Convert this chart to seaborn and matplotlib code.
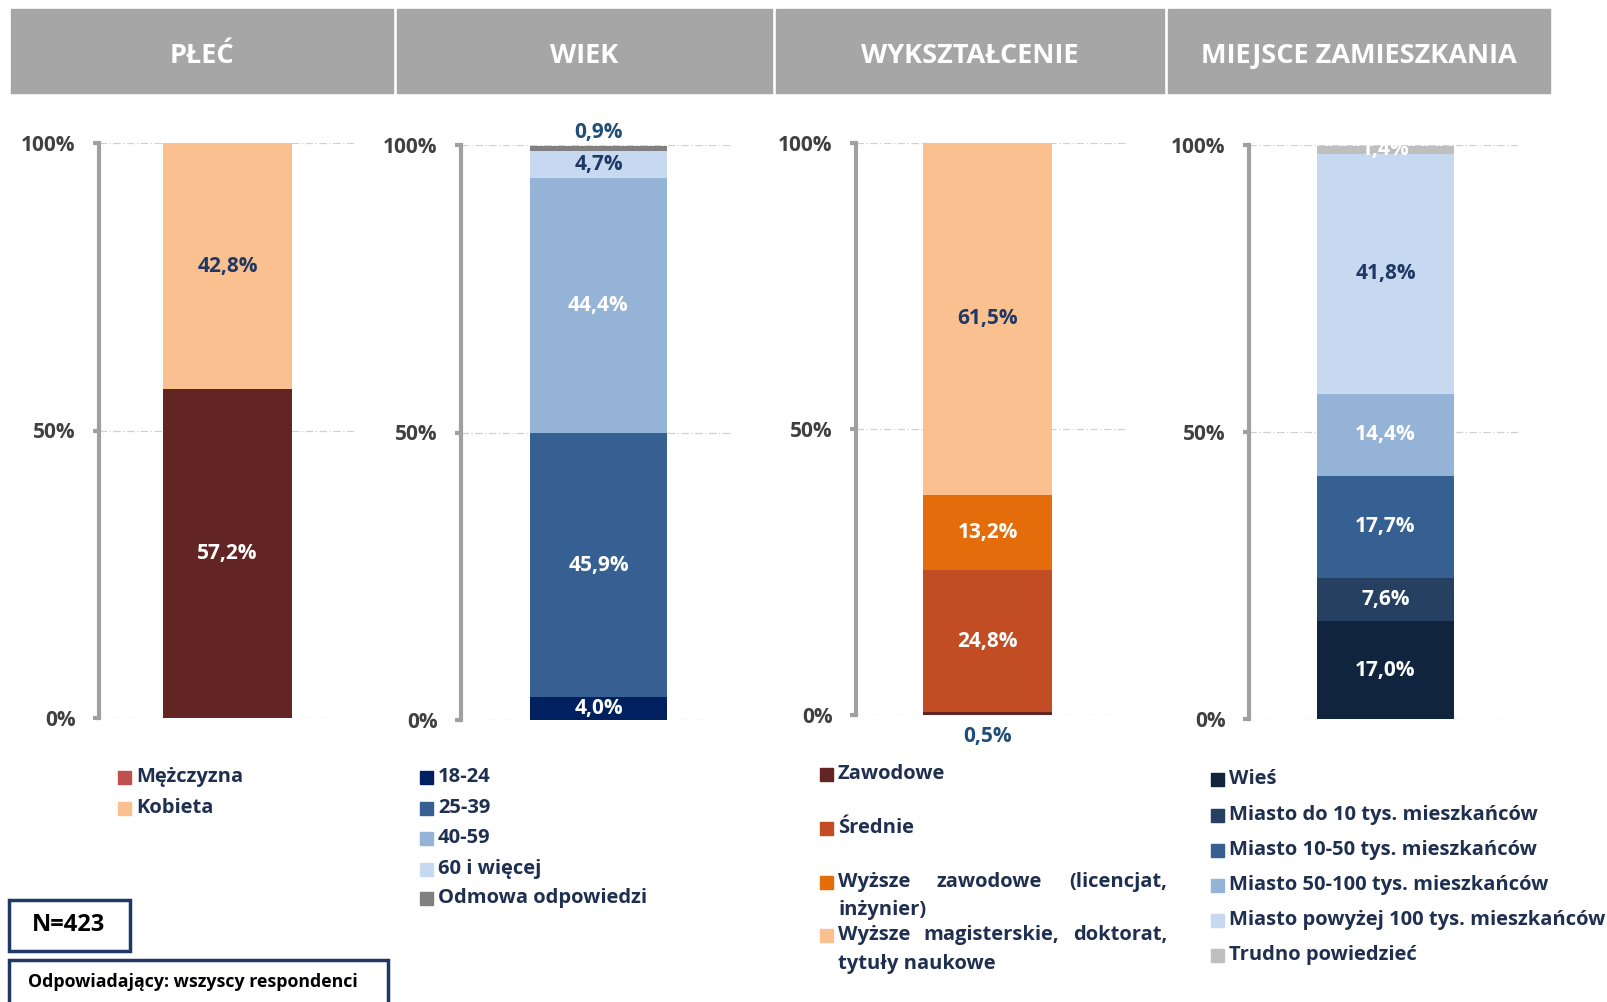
import numpy as np
import pandas as pd
import seaborn as sns
import matplotlib.pyplot as plt
from matplotlib.patches import Rectangle

# ---- data ----
headers = ["PŁEĆ", "WIEK", "WYKSZTAŁCENIE", "MIEJSCE ZAMIESZKANIA"]

sex_labels = ["Mężczyzna", "Kobieta"]
sex_values = [57.2, 42.8]

age_labels = ["18-24", "25-39", "40-59", "60 i więcej", "Odmowa odpowiedzi"]
age_values = [4.0, 45.9, 44.4, 4.7, 0.9]

edu_labels = ["Zawodowe", "Średnie", "Wyższe zawodowe (licencjat, inżynier)",
              "Wyższe magisterskie, doktorat, tytuły naukowe"]
edu_values = [0.5, 24.8, 13.2, 61.5]

place_labels = ["Wieś", "Miasto do 10 tys. mieszkańców", "Miasto 10-50 tys. mieszkańców",
                "Miasto 50-100 tys. mieszkańców", "Miasto powyżej 100 tys. mieszkańców",
                "Trudno powiedzieć"]
place_values = [17.0, 7.6, 17.7, 14.4, 41.8, 1.4]

n_total = 423

# ---- style ----
sns.set_style("white")
plt.rcParams['font.family'] = ['Open Sans', 'DejaVu Sans']
WT = 'bold'
plt.rcParams['font.weight'] = WT

NAVY = '#1F3864'
TXT = '#1F2F4F'
W, H = 1608, 1002
LEG_FS = 14.5
VAL_FS = 15

fig = plt.figure(figsize=(16.08, 10.02), dpi=100)


def fx(x):
    return x / W


def fy(y):
    return 1 - y / H


# header boxes
for (x0, x1), title in zip([(11, 393), (397, 772), (776, 1164), (1168, 1550)], headers):
    fig.patches.append(Rectangle((fx(x0), fy(93)), fx(x1 - x0), (93 - 9) / H,
                                 transform=fig.transFigure, color='#A6A6A6', zorder=0))
    fig.text(fx((x0 + x1) / 2), fy(56), title, color='white', fontsize=19.5,
             fontweight=WT, ha='center', va='center')

# panels: axis x, grid end x, top y, bottom y, bar left, bar right
panels = [
    (99, 354, 143, 718, 163, 292),
    (461, 733, 145, 720, 530, 667),
    (856, 1128, 143, 715, 923, 1052),
    (1249, 1521, 145, 719, 1317, 1454),
]

sex_colors = ['#632523', '#FAC090']
age_colors = ['#002060', '#376092', '#95B3D7', '#C6D9F1', '#808080']
edu_colors = ['#632523', '#C24C24', '#E46C0A', '#FAC090']
place_colors = ['#10243E', '#254061', '#376092', '#95B3D7', '#C6D9F1', '#BFBFBF']

series = [
    (sex_values, sex_colors, ['white', NAVY]),
    (age_values, age_colors, ['white', 'white', 'white', NAVY, '#1F4E79']),
    (edu_values, edu_colors, ['#1F4E79', 'white', 'white', NAVY]),
    (place_values, place_colors, ['white', 'white', 'white', 'white', NAVY, 'white']),
]

axes = []
for (ax_x, gx, ty, by, bl, br), (vals, cols, lcols) in zip(panels, series):
    ax = fig.add_axes([fx(ax_x), fy(by), fx(gx - ax_x), (by - ty) / H])
    axes.append(ax)
    frac = np.array(vals) / 100.0
    cum = np.cumsum(frac)
    # draw tallest stack first so the lower segments overlay it
    for c, col in list(zip(cum, cols))[::-1]:
        df = pd.DataFrame({'g': ['a'], 'v': [c]})
        sns.barplot(data=df, x='g', y='v', color=col, saturation=1, width=1.0,
                    linewidth=0, ax=ax)
    bw = br - bl
    bc = (bl + br) / 2
    ax.set_xlim(-(bc - ax_x) / bw, (gx - bc) / bw)
    ax.set_ylim(0, 1)
    ax.set_xlabel('')
    ax.set_ylabel('')
    ax.set_xticks([])
    ax.set_yticks([0, 0.5, 1])
    ax.set_yticklabels(['0%', '50%', '100%'])
    ax.tick_params(axis='y', left=True, length=4, width=3, color='#A0A0A0', pad=13,
                   labelsize=15, labelcolor='#404040')
    for lbl in ax.get_yticklabels():
        lbl.set_fontweight(WT)
    for s in ['top', 'right', 'bottom']:
        ax.spines[s].set_visible(False)
    ax.spines['left'].set_color('#A0A0A0')
    ax.spines['left'].set_linewidth(3)
    for yv in [0, 0.5, 1]:
        ax.axhline(yv, color='#D0D0D0', lw=0.9, ls=(0, (6, 2, 1, 2)), zorder=0.5)
    ax.set_axisbelow(True)
    # value labels
    starts = cum - frac
    for i, (s, f, lc) in enumerate(zip(starts, frac, lcols)):
        txt = f"{vals[i]:.1f}%".replace('.', ',')
        yc = s + f / 2
        if f < 0.012:
            # tiny slices labelled outside the bar
            yc = 1.022 if s > 0.5 else -0.038
        ax.text(0, yc, txt, ha='center', va='center', color=lc, fontsize=VAL_FS,
                fontweight=WT, clip_on=False)


def legend_item(px, py, color, text):
    fig.patches.append(Rectangle((fx(px), fy(py + 6.5)), fx(13), 13 / H,
                                 transform=fig.transFigure, color=color))
    fig.text(fx(px + 18), fy(py), text, fontsize=LEG_FS, color=TXT, fontweight=WT,
             ha='left', va='center')


# legends
for lab, col, py in zip(sex_labels, ['#C0504D', '#FAC090'], [777, 808]):
    legend_item(118, py, col, lab)
for lab, col, py in zip(age_labels, age_colors, [777, 808, 838, 869, 898]):
    legend_item(420, py, col, lab)
for lab, col, py in zip(place_labels, place_colors, [779, 815, 850, 885, 920, 955]):
    legend_item(1211, py, col, lab)

renderer = fig.canvas.get_renderer()


def justify(words, x0, x1, py):
    ts = [fig.text(fx(x0), fy(py), w, fontsize=LEG_FS, color=TXT, fontweight=WT,
                   ha='left', va='center') for w in words]
    widths = [t.get_window_extent(renderer).width for t in ts]
    gap = (x1 - x0 - sum(widths)) / (len(words) - 1)
    x = x0
    for t, w in zip(ts, widths):
        t.set_x(fx(x))
        x += w + gap


edu_lines = [
    (edu_labels[0], [774]),
    (edu_labels[1], [828]),
    (edu_labels[2], [882, 910]),
    (edu_labels[3], [935, 964]),
]
for (lab, ys), col in zip(edu_lines, edu_colors):
    fig.patches.append(Rectangle((fx(820), fy(ys[0] + 6.5)), fx(13), 13 / H,
                                 transform=fig.transFigure, color=col))
    if len(ys) == 1:
        fig.text(fx(838), fy(ys[0]), lab, fontsize=LEG_FS, color=TXT, fontweight=WT,
                 ha='left', va='center')
    else:
        words = lab.split(' ')
        first, second = words[:-1], words[-1:]
        if lab == edu_labels[3]:
            first, second = words[:3], words[3:]
        justify(first, 838, 1167, ys[0])
        fig.text(fx(838), fy(ys[1]), ' '.join(second), fontsize=LEG_FS, color=TXT,
                 fontweight=WT, ha='left', va='center')

# N box and base note
fig.patches.append(Rectangle((fx(9), fy(951)), fx(121), 51 / H, transform=fig.transFigure,
                             fill=False, edgecolor=NAVY, lw=2.5))
fig.text(fx(69), fy(925), f"N={n_total}", fontsize=17, color='black', fontweight=WT,
         ha='center', va='center')
fig.patches.append(Rectangle((fx(9), fy(1010)), fx(379), 50 / H, transform=fig.transFigure,
                             fill=False, edgecolor=NAVY, lw=2.5, clip_on=False))
fig.text(fx(28), fy(982), "Odpowiadający: wszyscy respondenci", fontsize=12.8,
         color='black', fontweight=WT, ha='left', va='center')

plt.savefig("out.png", dpi=100)
